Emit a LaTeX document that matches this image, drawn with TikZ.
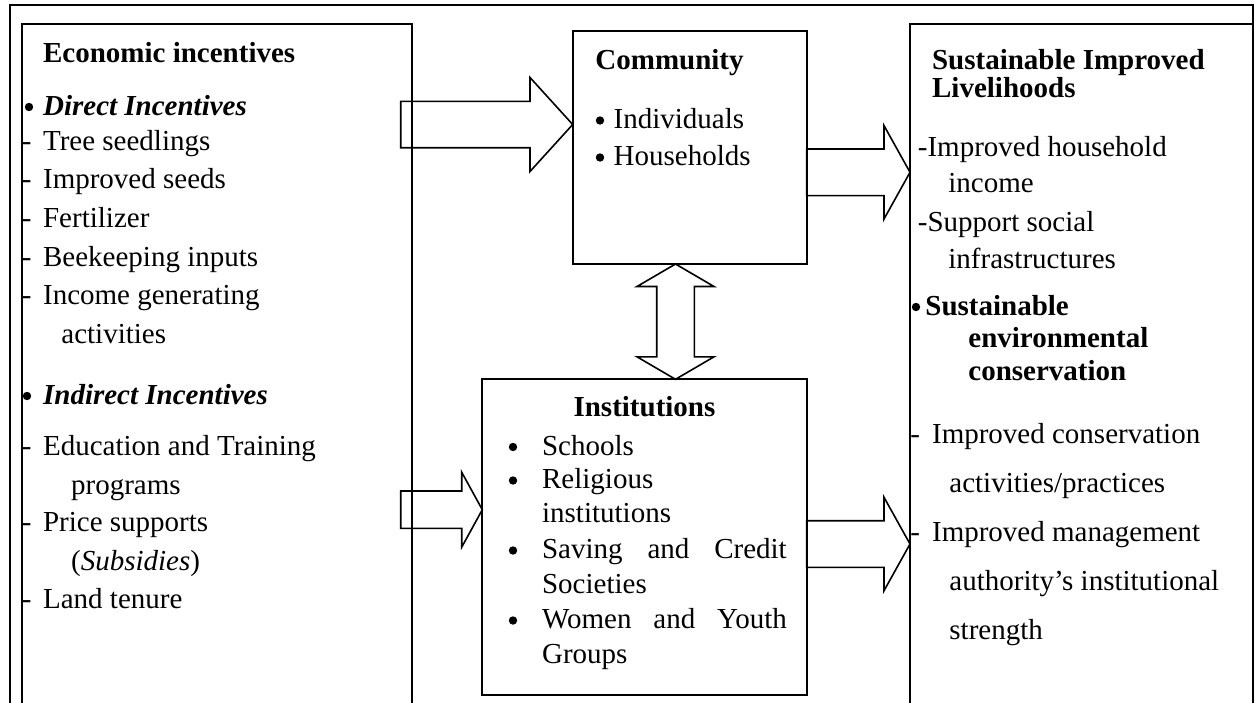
\documentclass[tikz,border=0pt]{standalone}
\usepackage{fontspec}
\setmainfont{Liberation Serif}
\usetikzlibrary{fit,calc}
\newcommand\fsz{\fontsize{14.5}{17}\selectfont}
\tikzset{
 box/.style={draw, line width=0.85pt, inner sep=0pt},
 frame/.style={draw, line width=1.4pt, inner sep=0pt},
 arr/.style={draw, line width=0.8pt, line join=miter},
 txt/.style={anchor=base west, inner sep=0pt, font=\fsz},
 ctxt/.style={anchor=base, inner sep=0pt, font=\fsz},
 bulletdot/.style={fill=black},
}
\newcommand\HArrow[5]{%
 \draw[arr] ($(#1)+(0,-#4)$) -- ($(#2)+(-#3,-#4)$) -- ($(#2)+(-#3,-#5)$) -- (#2) -- ($(#2)+(-#3,#5)$) -- ($(#2)+(-#3,#4)$) -- ($(#1)+(0,#4)$) -- cycle;}
\newcommand\VDArrow[5]{%
 \draw[arr] (#1) -- ($(#1)+(#5,#3)$) -- ($(#1)+(#4,#3)$) -- ($(#2)+(#4,-#3)$) -- ($(#2)+(#5,-#3)$) -- (#2) -- ($(#2)+(-#5,-#3)$) -- ($(#2)+(-#4,-#3)$) -- ($(#1)+(-#4,#3)$) -- ($(#1)+(-#5,#3)$) -- cycle;}
\newcommand\dsh[1]{\makebox[#1][l]{-}}
\newcommand\bul[2]{\path[bulletdot] ($(#1.base west)+(#2,-8)$) circle (2.1pt);}
\begin{document}
\begin{tikzpicture}[x=0.5pt,y=-0.5pt]
\useasboundingbox (0,0) rectangle (1257,702);
\fill[white] (0,0) rectangle (1257,702);
\clip (0,0) rectangle (1257,702);
% frames and boxes
\node[frame, fit={(10,5) (1253,740)}] (outer) {};
\node[box, fit={(22,24) (411.7,740)}] (left) {};
\node[box, fit={(910,24.3) (1253,740)}] (right) {};
\node[box, fit={(572.7,30.7) (806.7,264)}] (comm) {};
\node[box, fit={(482.3,379.3) (806.7,695)}] (inst) {};
% arrow end points
\coordinate (a1s) at (400.7,124.5);
\coordinate (a1e) at (572.7,124.5);
\coordinate (a2s) at (806.7,172.3);
\coordinate (a2e) at (910,172.3);
\coordinate (a3s) at (400.7,509.7);
\coordinate (a3e) at (482.3,509.7);
\coordinate (a4s) at (806.7,544);
\coordinate (a4e) at (910,544);
\coordinate (a5t) at (675.5,264);
\coordinate (a5b) at (675.5,379.3);
\HArrow{a1s}{a1e}{42.7}{23.2}{47}
\HArrow{a2s}{a2e}{26}{23.3}{46.7}
\HArrow{a3s}{a3e}{20.6}{18.7}{37.5}
\HArrow{a4s}{a4e}{26}{23.3}{46.7}
\VDArrow{a5t}{a5b}{22.5}{18.8}{38.5}
% left column
\node[txt] (L0) at (42.7,62.7) {\bfseries Economic incentives};
\node[txt] (L1) at (42.7,115) {\bfseries\itshape Direct Incentives};
\node[txt] (L2) at (21.5,150) {\dsh{10.6pt}Tree seedlings};
\node[txt] (L3) at (21.5,188.3) {\dsh{10.6pt}Improved seeds};
\node[txt] (L4) at (21.5,227.7) {\dsh{10.6pt}Fertilizer};
\node[txt] (L5) at (21.5,266) {\dsh{10.6pt}Beekeeping inputs};
\node[txt] (L6) at (21.5,304.3) {\dsh{10.6pt}Income generating};
\node[txt] (L7) at (61,343.3) {activities};
\node[txt] (L8) at (42.7,404) {\bfseries\itshape Indirect Incentives};
\node[txt] (L9) at (21.5,455) {\dsh{10.6pt}Education and Training};
\node[txt] (L10) at (70.7,494) {programs};
\node[txt] (L11) at (21.5,531.7) {\dsh{10.6pt}Price supports};
\node[txt] (L12) at (70.7,570.7) {(\textit{Subsidies})};
\node[txt] (L13) at (21.5,608.3) {\dsh{10.6pt}Land tenure};
\bul{L1}{-13.7}
\bul{L8}{-15.7}
% community
\node[txt] (C0) at (595,69.3) {\bfseries Community};
\node[txt] (C1) at (613.3,128.5) {Individuals};
\node[txt] (C2) at (613.3,165.5) {Households};
\bul{C1}{-13.3}
\bul{C2}{-13.3}
% institutions
\node[ctxt] (I0) at (644.5,416.7) {\bfseries Institutions};
\node[txt] (I1) at (541.7,455) {Schools};
\node[txt] (I2) at (541.7,488.5) {Religious};
\node[txt] (I3) at (541.7,522.5) {institutions};
\node[txt] (I4) at (541.7,558.5) {\makebox[122.35pt][s]{Saving and Credit}};
\node[txt] (I5) at (541.7,593.5) {Societies};
\node[txt] (I6) at (541.7,628.5) {\makebox[122.35pt][s]{Women and Youth}};
\node[txt] (I7) at (541.7,663) {Groups};
\bul{I1}{-28.7}
\bul{I2}{-28.7}
\bul{I4}{-28.7}
\bul{I6}{-28.7}
% right column
\node[txt] (R0) at (931.7,69) {\bfseries Sustainable Improved};
\node[txt] (R1) at (931.7,97) {\bfseries Livelihoods};
\node[txt] (R2) at (917.5,156) {-Improved household};
\node[txt] (R3) at (948,192) {income};
\node[txt] (R4) at (917.5,231) {-Support social};
\node[txt] (R5) at (948,268) {infrastructures};
\node[txt] (R6) at (925,315) {\bfseries Sustainable};
\node[txt] (R7) at (968,347) {\bfseries environmental};
\node[txt] (R8) at (968,380) {\bfseries conservation};
\node[txt] (R9) at (910,443) {\dsh{10.85pt}Improved conservation};
\node[txt] (R10) at (949,492) {activities/practices};
\node[txt] (R11) at (910,541) {\dsh{10.85pt}Improved management};
\node[txt] (R12) at (949,590) {authority’s institutional};
\node[txt] (R13) at (949,639) {strength};
\bul{R6}{-9}
\end{tikzpicture}
\end{document}
